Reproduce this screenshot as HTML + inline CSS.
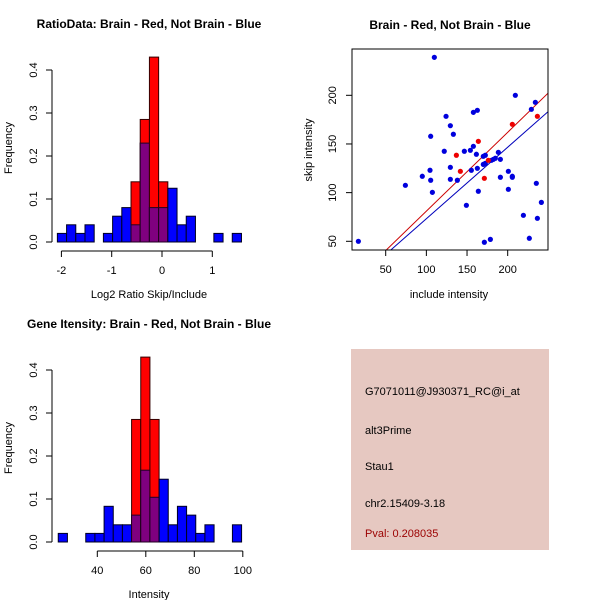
<!DOCTYPE html>
<html><head><meta charset="utf-8"><style>
body{margin:0;background:#fff}
svg{display:block;font-family:"Liberation Sans",sans-serif}
</style></head><body>
<svg id="c" width="600" height="600" viewBox="0 0 600 600">
<rect x="351" y="349" width="198" height="201" fill="#e6c8c1"/>
<text x="365" y="395" font-size="11">G7071011@J930371_RC@i_at</text>
<text x="365" y="434" font-size="11">alt3Prime</text>
<text x="365" y="470" font-size="11">Stau1</text>
<text x="365" y="507" font-size="11">chr2.15409-3.18</text>
<text x="365" y="537" font-size="11" fill="#9b0000">Pval: 0.208035</text>
</svg>
<script>
// Histogram 1: RatioData
const ratioBlue=[0.02,0.04,0.02,0.04,0,0.02,0.06,0.08,0.04,0.23,0.08,0.08,0.125,0.04,0.06,0,0,0.02,0,0.02];
const ratioRed=[0,0,0,0,0,0,0,0,0.14,0.285,0.43,0.14,0,0,0,0,0,0,0,0];
const ratioXTicks=[-2,-1,0,1];
const freqTicks=[0,0.1,0.2,0.3,0.4];
// Histogram 2: Intensity
const intBlue=[0.02,0,0,0.02,0.02,0.083,0.04,0.04,0.0625,0.167,0.104,0.146,0.04,0.083,0.0625,0.02,0.04,0,0,0.04];
const intRed=[0,0,0,0,0,0,0,0,0.285,0.43,0.285,0,0,0,0,0,0,0,0,0];
const intXTicks=[40,60,80,100];
// Scatter
const blueX=[16.4,109.8,74.2,95,104.5,105.3,105.3,107.4,122,124.2,129.5,129.5,129.5,133.2,138.1,146.7,149.2,154.1,155.3,157.8,157.8,162.7,161.5,162.7,163.9,170,170,172.5,172.5,171.3,178.7,179.9,182.4,184.8,188.5,191,191,200.8,200.8,205.7,205.7,209.4,219.3,226.6,229.1,234,235.2,236.5,241.4];
const blueY=[50,239,107.5,116.8,123,157.9,112.7,100.3,142.5,178.4,168.8,126,113.7,160,112.7,142.5,87,143.5,123,147.6,182.5,184.6,139.4,125,101.4,137.3,129,138.4,130.1,49,52,133.2,134.2,135.3,141.4,134.2,115.8,121.9,103.4,116.8,115.8,200,76.7,53.1,185.6,192.8,109.6,73.6,90];
const redX=[136.9,141.8,163.9,171.3,176.2,205.7,236.5];
const redY=[138.4,121.9,152.7,114.7,133.2,170.2,178.4];
const redFit=[0,0.81];
const blueFit=[-0.3,0.735];
const scX=[50,100,150,200];
const scY=[50,100,150,200];

const NS='http://www.w3.org/2000/svg';
const svg=document.getElementById('c');
function mk(tag,attrs,parent){const e=document.createElementNS(NS,tag);for(const k in attrs)e.setAttribute(k,attrs[k]);(parent||svg).appendChild(e);return e;}
function txt(x,y,s,size,extra,parent){const e=mk('text',Object.assign({x:x,y:y,'font-size':size,'text-anchor':'middle'},extra||{}),parent);e.textContent=s;return e;}

function hist(o){
  const g=mk('g',{});
  
  
  const xs=v=>o.x0+(v-o.v0)*o.pxPer;
  const ys=f=>o.y0-f*430;
  const bw=o.binW*o.pxPer;
  for(let i=0;i<o.blue.length;i++){
    const l=xs(o.start+i*o.binW);
    const b=o.blue[i], r=o.red[i];
    if(b>0){const e=mk('rect',{x:l,y:ys(b),width:bw,height:b*430,fill:'#0000ff',stroke:'#000022','stroke-width':1},g);
      
      }
    if(r>0){const e=mk('rect',{x:l,y:ys(r),width:bw,height:r*430,fill:'#ff0000',stroke:'#330000','stroke-width':1},g);
      
      }
    const m=Math.min(b,r);
    if(m>0){const e=mk('rect',{x:l,y:ys(m),width:bw,height:m*430,fill:'#7f007f',stroke:'#220022','stroke-width':1},g);
      
      }
  }
  mk('line',{x1:52,x2:52,y1:ys(0),y2:ys(0.4),stroke:'#000'},g);
  freqTicks.forEach(t=>{mk('line',{x1:46,x2:52,y1:ys(t),y2:ys(t),stroke:'#000'},g);
    txt(0,0,t.toFixed(1),11,{transform:`translate(37,${ys(t)}) rotate(-90)`},g);});
  const ay=o.y0+9;
  mk('line',{x1:xs(o.ticks[0]),x2:xs(o.ticks[o.ticks.length-1]),y1:ay,y2:ay,stroke:'#000'},g);
  o.ticks.forEach(t=>{mk('line',{x1:xs(t),x2:xs(t),y1:ay,y2:ay+6,stroke:'#000'},g);
    txt(xs(t),ay+23,String(t),11,{},g);});
  txt(149,o.y0-214,o.title,12,{'font-weight':'bold'},g);
  txt(149,o.y0+56,o.xlab,11,{},g);
  txt(0,0,'Frequency',11,{transform:`translate(12,${o.y0-94}) rotate(-90)`},g);
}
hist({name:'ratio-histogram',blue:ratioBlue,red:ratioRed,x0:162,v0:0,pxPer:50.3,start:-2.08,binW:0.183,y0:242,ticks:ratioXTicks,title:'RatioData: Brain - Red, Not Brain - Blue',xlab:'Log2 Ratio Skip/Include'});
hist({name:'intensity-histogram',blue:intBlue,red:intRed,x0:97.3,v0:40,pxPer:2.425,start:23.9,binW:3.78,y0:542,ticks:intXTicks,title:'Gene Itensity: Brain - Red, Not Brain - Blue',xlab:'Intensity'});

(function(){
  const g=mk('g',{});
  
  
  const L=352,R=548,T=49,B=250;
  const xs=v=>385.7+(v-50)*0.8133;
  const ys=v=>241.3-(v-50)*0.9733;
  const dx=v=>50+(v-385.7)/0.8133;
  const clip=mk('clipPath',{id:'sc'},g);mk('rect',{x:L,y:T,width:R-L,height:B-T},clip);
  const pg=mk('g',{'clip-path':'url(#sc)'},g);
  function fit(c,col,name){const x1=dx(L),x2=dx(R);
    const e=mk('line',{x1:xs(x1),y1:ys(c[0]+c[1]*x1),x2:xs(x2),y2:ys(c[0]+c[1]*x2),stroke:col,'stroke-width':1},pg);
    
    }
  fit(redFit,'#cc0000','red-fit-line');
  fit(blueFit,'#0000bb','blue-fit-line');
  blueX.forEach((x,i)=>{const e=mk('circle',{cx:xs(x),cy:ys(blueY[i]),r:2.6,fill:'#0000dd'},pg);
    
    });
  redX.forEach((x,i)=>{const e=mk('circle',{cx:xs(x),cy:ys(redY[i]),r:2.6,fill:'#ee0000'},pg);
    
    });
  mk('rect',{x:L,y:T,width:R-L,height:B-T,fill:'none',stroke:'#000'},g);
  scX.forEach(t=>{mk('line',{x1:xs(t),x2:xs(t),y1:B,y2:B+6,stroke:'#000'},g);txt(xs(t),B+23,String(t),11,{},g);});
  scY.forEach(t=>{mk('line',{x1:L-6,x2:L,y1:ys(t),y2:ys(t),stroke:'#000'},g);
    txt(0,0,String(t),11,{transform:`translate(336,${ys(t)}) rotate(-90)`},g);});
  txt(450,29,'Brain - Red, Not Brain - Blue',12,{'font-weight':'bold'},g);
  txt(449,298,'include intensity',11,{},g);
  txt(0,0,'skip intensity',11,{transform:`translate(312,150) rotate(-90)`},g);
})();
</script>
</body></html>
